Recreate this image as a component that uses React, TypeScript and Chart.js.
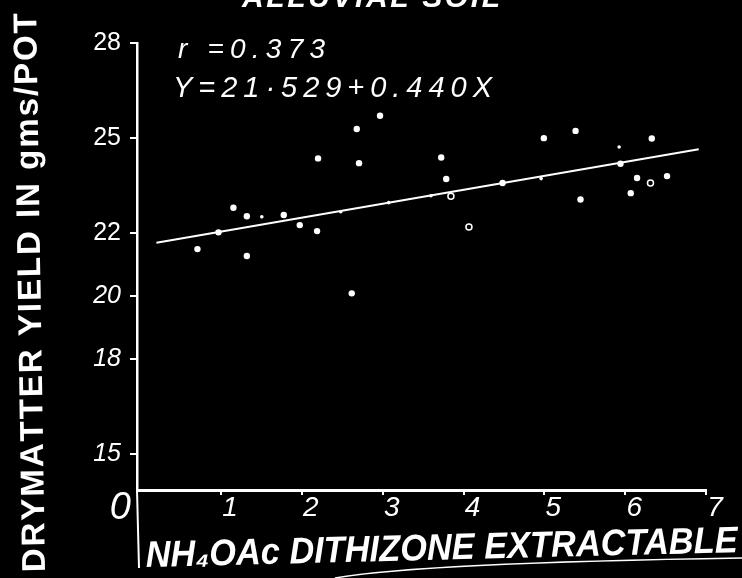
import React, { useEffect, useRef } from "react";
import { Chart, registerables } from "chart.js";
Chart.register(...registerables);

const FONT = "'Liberation Sans', 'DejaVu Sans', sans-serif";

const X_TICKS = [1, 2, 3, 4, 5, 6, 7];
const Y_TICKS = [15, 18, 20, 22, 25, 28];
const Y_TICK_LABELS = ["15", "18", "20", "22", "25", "28"];
const ORIGIN_LABEL = "0";

const SOLID_X = [0.708, 0.968, 1.153, 1.319, 1.319, 1.776, 1.974, 2.188, 2.2, 2.617, 2.679, 2.707, 2.967, 3.724, 3.786, 4.483, 4.994, 5.386, 5.447, 5.942, 6.069, 6.147, 6.329, 6.518];
const SOLID_Y = [21.48, 22.01, 22.79, 22.52, 21.26, 22.56, 22.24, 22.05, 24.35, 20.08, 25.28, 24.2, 25.7, 24.38, 23.7, 23.57, 24.99, 25.22, 23.05, 24.18, 23.25, 23.73, 24.98, 23.79];

const SMALL_X = [1.504, 2.481, 3.074, 3.597, 4.96, 5.925];
const SMALL_Y = [22.5, 22.66, 22.95, 23.17, 23.71, 24.71];

const HOLLOW_X = [3.844, 4.067, 6.313];
const HOLLOW_Y = [23.15, 22.18, 23.57];

const FIT_X = [0.2, 6.91];
const FIT_Y = [21.68, 24.64];

const TITLE = "ALLUVIAL SOIL";
const R_TEXT = "r =0.373";
const EQ_TEXT = "Y=21·529+0.440X";
const Y_TITLE = "DRYMATTER YIELD IN gms/POT";
const X_TITLE = "NH₄OAc DITHIZONE EXTRACTABLE";

// Draw text spanning exactly width w: letter-spaced if too short, squeezed if too long.
function fitText(
  ctx: CanvasRenderingContext2D,
  text: string,
  x: number,
  y: number,
  w: number,
  font: string,
  rot = 0
) {
  ctx.save();
  ctx.font = font;
  ctx.textAlign = "left";
  ctx.textBaseline = "alphabetic";
  ctx.fillStyle = "#fff";
  const m = ctx.measureText(text).width;
  ctx.translate(x, y);
  if (rot) ctx.rotate(rot);
  const chars = Array.from(text);
  if (m >= w || chars.length < 2) {
    ctx.scale(w / m, 1);
    ctx.fillText(text, 0, 0);
  } else {
    const widths = chars.map((c) => ctx.measureText(c).width);
    const sum = widths.reduce((a, b) => a + b, 0);
    const extra = (w - sum) / (chars.length - 1);
    let cx = 0;
    chars.forEach((c, i) => {
      ctx.fillText(c, cx, 0);
      cx += widths[i] + extra;
    });
  }
  ctx.restore();
}

const decor = {
  id: "decor",
  beforeDraw(chart: any) {
    const ctx = chart.ctx;
    ctx.save();
    ctx.fillStyle = "#000";
    ctx.fillRect(0, 0, chart.width, chart.height);
    ctx.restore();
  },
  afterDraw(chart: any) {
    const ctx: CanvasRenderingContext2D = chart.ctx;
    fitText(ctx, TITLE, 242, 7, 258, `italic bold 30px ${FONT}`);
    fitText(ctx, R_TEXT, 178, 58, 147, `italic 28px ${FONT}`);
    fitText(ctx, EQ_TEXT, 173, 97, 319, `italic 29px ${FONT}`);
    fitText(ctx, Y_TITLE, 45, 572, 559, `bold 33px ${FONT}`, -Math.PI / 2 - 0.016);
    fitText(ctx, X_TITLE, 146, 567, 592, `italic bold 37px ${FONT}`, -0.025);
    const area = chart.chartArea;
    ctx.save();
    ctx.fillStyle = "#fff";
    ctx.font = `italic 38px ${FONT}`;
    ctx.textAlign = "right";
    ctx.textBaseline = "alphabetic";
    ctx.fillText(ORIGIN_LABEL, 131, 519);
    ctx.strokeStyle = "#fff";
    ctx.lineWidth = 2;
    ctx.beginPath();
    ctx.moveTo(area.left, area.bottom);
    ctx.lineTo(area.left + 2, 568);
    ctx.stroke();
    ctx.lineWidth = 1.5;
    ctx.beginPath();
    ctx.moveTo(335, 578);
    ctx.quadraticCurveTo(420, 563, 742, 558);
    ctx.stroke();
    ctx.restore();
  },
};

export default function App() {
  const ref = useRef<HTMLCanvasElement | null>(null);
  useEffect(() => {
    if (!ref.current) return;
    const pts = (xs: number[], ys: number[]) => xs.map((x, i) => ({ x, y: ys[i] }));
    const chart = new Chart(ref.current, {
      type: "scatter",
      data: {
        datasets: [
          {
            type: "line",
            data: pts(FIT_X, FIT_Y),
            borderColor: "#fff",
            borderWidth: 2,
            pointRadius: 0,
            showLine: true,
          } as any,
          {
            data: pts(SOLID_X, SOLID_Y),
            backgroundColor: "#fff",
            borderWidth: 0,
            pointRadius: 3.2,
          },
          {
            data: pts(SMALL_X, SMALL_Y),
            backgroundColor: "#fff",
            borderWidth: 0,
            pointRadius: 1.8,
          },
          {
            data: pts(HOLLOW_X, HOLLOW_Y),
            backgroundColor: "#000",
            borderColor: "#fff",
            borderWidth: 1.5,
            pointRadius: 3,
          },
        ],
      },
      options: {
        animation: false,
        responsive: false,
        layout: { padding: { top: 43, right: 36, left: 0, bottom: 0 } },
        plugins: { legend: { display: false }, tooltip: { enabled: false } },
        scales: {
          x: {
            type: "linear",
            min: -0.04,
            max: 7,
            afterBuildTicks: (s: any) => {
              s.ticks = X_TICKS.map((v) => ({ value: v }));
            },
            afterFit: (s: any) => {
              s.height = 88;
            },
            border: { display: true, color: "#fff", width: 3 },
            grid: {
              display: true,
              drawOnChartArea: false,
              drawTicks: true,
              tickLength: 5,
              color: "#fff",
              lineWidth: 2,
            },
            ticks: {
              color: "#fff",
              font: { family: FONT, size: 28, style: "italic" },
              padding: -4,
              labelOffset: 9,
              maxRotation: 0,
              autoSkip: false,
            },
          },
          y: {
            type: "linear",
            min: 13.86,
            max: 28,
            afterBuildTicks: (s: any) => {
              s.ticks = Y_TICKS.map((v) => ({ value: v }));
            },
            afterFit: (s: any) => {
              s.width = 137;
            },
            border: { display: true, color: "#fff", width: 2.5 },
            grid: {
              display: true,
              drawOnChartArea: false,
              drawTicks: true,
              tickLength: 7,
              color: "#fff",
              lineWidth: 2,
            },
            ticks: {
              color: "#fff",
              padding: 9,
              autoSkip: false,
              callback: (_v: any, i: number) => Y_TICK_LABELS[i],
              font: (c: any) => ({
                family: FONT,
                size: 25,
                style: c.index >= 3 ? "normal" : "italic",
              }),
            },
          },
        },
      },
      plugins: [decor],
    } as any);
    return () => chart.destroy();
  }, []);
  return (
    <div
      style={{
        position: "fixed",
        left: 0,
        top: 0,
        width: 742,
        height: 578,
        background: "#000",
        overflow: "hidden",
      }}
    >
      <canvas ref={ref} width={742} height={578} style={{ width: 742, height: 578, display: "block" }} />
    </div>
  );
}
